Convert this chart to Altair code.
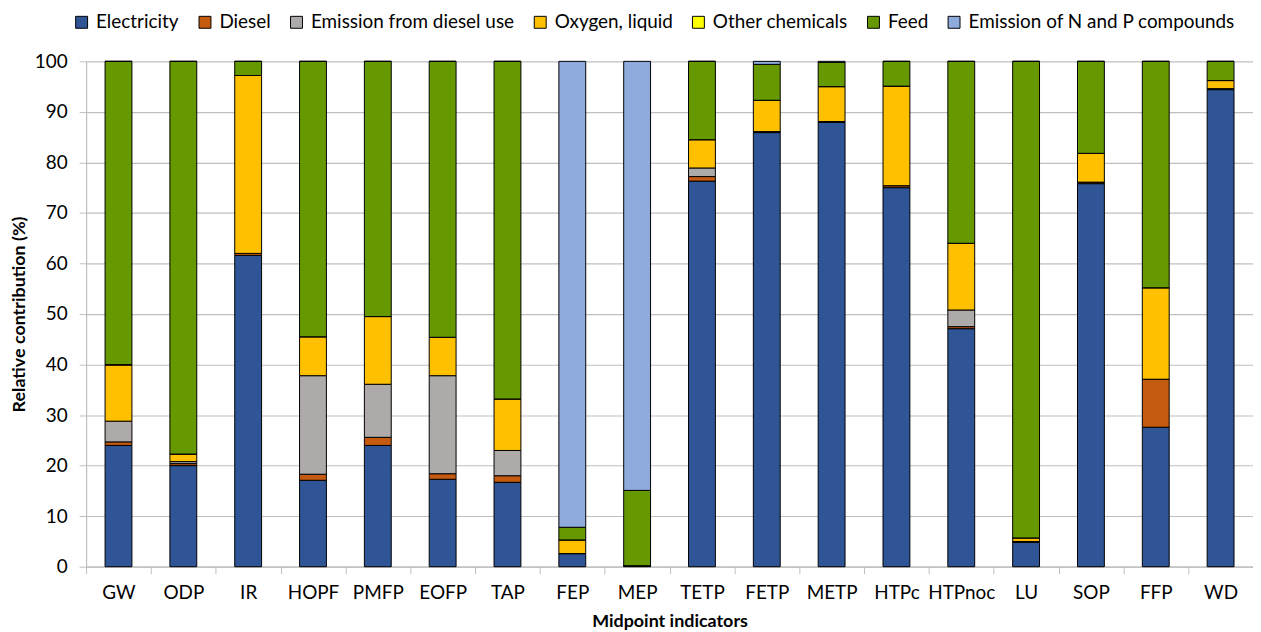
import altair as alt
import pandas as pd

categories = ["GW", "ODP", "IR", "HOPF", "PMFP", "EOFP", "TAP", "FEP", "MEP",
              "TETP", "FETP", "METP", "HTPc", "HTPnoc", "LU", "SOP", "FFP", "WD"]
series = ["Electricity", "Diesel", "Emission from diesel use", "Oxygen, liquid",
          "Other chemicals", "Feed", "Emission of N and P compounds"]
colors = ["#2F5597", "#C55A11", "#AEAAAA", "#FFC000", "#FFFF00", "#669900", "#8FAADC"]

electricity = [24.0, 20.0, 61.6, 17.1, 24.0, 17.3, 16.7, 2.6, 0.2, 76.3, 85.9, 87.9, 75.0, 47.1, 4.8, 75.8, 27.6, 94.4]
diesel      = [0.7, 0.4, 0.4, 1.2, 1.6, 1.1, 1.3, 0.0, 0.0, 0.9, 0.2, 0.2, 0.4, 0.4, 0.2, 0.3, 9.5, 0.2]
em_diesel   = [4.1, 0.4, 0.0, 19.5, 10.5, 19.4, 5.0, 0.0, 0.0, 1.7, 0.0, 0.0, 0.0, 3.3, 0.0, 0.0, 0.0, 0.0]
oxygen      = [11.1, 1.5, 35.2, 7.7, 13.4, 7.6, 10.2, 2.7, 0.0, 5.6, 6.2, 6.9, 19.7, 13.2, 0.7, 5.7, 18.1, 1.6]
other_chem  = [0.1, 0.0, 0.0, 0.0, 0.0, 0.0, 0.0, 0.0, 0.0, 0.0, 0.0, 0.0, 0.0, 0.0, 0.0, 0.0, 0.0, 0.0]
feed        = [60.0, 77.7, 2.8, 54.5, 50.5, 54.6, 66.8, 2.5, 14.9, 15.5, 7.1, 4.8, 4.9, 36.0, 94.3, 18.2, 44.8, 3.8]
np_comp     = [0.0, 0.0, 0.0, 0.0, 0.0, 0.0, 0.0, 92.2, 84.9, 0.0, 0.6, 0.2, 0.0, 0.0, 0.0, 0.0, 0.0, 0.0]

all_values = [electricity, diesel, em_diesel, oxygen, other_chem, feed, np_comp]

rows = []
for si, (s, vals) in enumerate(zip(series, all_values)):
    for c, v in zip(categories, vals):
        rows.append({"Indicator": c, "Source": s, "Value": v, "order": si})
df = pd.DataFrame(rows)

FONT = "Lato"
GRID = "#BFBFBF"

chart = alt.Chart(df).mark_bar(size=27, stroke="#000000", strokeWidth=1).encode(
    x=alt.X("Indicator:N", sort=categories,
            scale=alt.Scale(paddingInner=0, paddingOuter=0),
            axis=alt.Axis(title="Midpoint indicators", labelAngle=0, tickBand="extent",
                          grid=False, domainColor=GRID, tickColor=GRID, domainWidth=1.2,
                          tickSize=7, labelPadding=10, labelFontSize=19, titleFontSize=18,
                          titleFontWeight="bold", titlePadding=10, labelColor="#000000",
                          titleColor="#000000")),
    y=alt.Y("Value:Q", stack="zero",
            scale=alt.Scale(domain=[0, 100], nice=False),
            axis=alt.Axis(title="Relative contribution (%)", values=list(range(0, 101, 10)),
                          grid=True, gridColor=GRID, gridWidth=1.2, domainWidth=1.2,
                          domainColor=GRID, tickColor=GRID, tickSize=7,
                          labelPadding=12, labelFontSize=19, titleFontSize=18,
                          titleFontWeight="bold", titleX=-58, titleY=254,
                          labelColor="#000000", titleColor="#000000")),
    color=alt.Color("Source:N", sort=series,
                    scale=alt.Scale(domain=series, range=colors),
                    legend=alt.Legend(title=None, orient="none", direction="horizontal",
                                      columns=7, legendX=-14, legendY=-49, padding=0,
                                      symbolType="square", symbolSize=144,
                                      symbolStrokeColor="#000000", symbolStrokeWidth=1,
                                      labelFontSize=19, labelOffset=5, columnPadding=16,
                                      labelLimit=500, labelColor="#000000")),
    order=alt.Order("order:Q", sort="ascending"),
).properties(
    width=1173, height=508,
    autosize=alt.AutoSizeParams(type="none"),
    padding={"left": 78.5, "top": 52, "right": 0, "bottom": 64},
).configure(font=FONT).configure_view(stroke=None)

chart.save("out.html", embed_options={"renderer": "svg", "actions": False})
